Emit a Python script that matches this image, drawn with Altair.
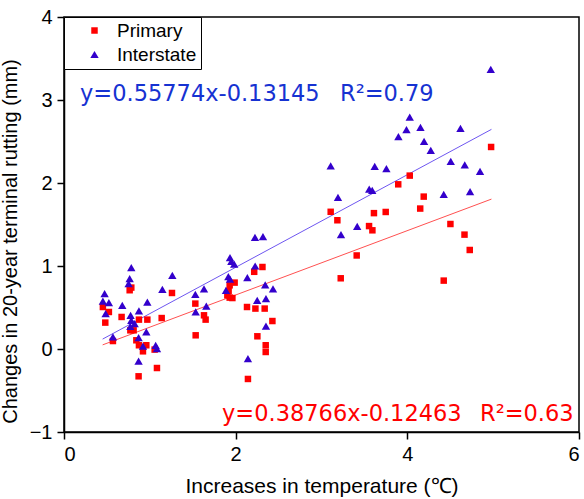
import altair as alt
import pandas as pd

# ---------------- data ----------------
series_names = ["Primary", "Interstate"]
marker_colors = ["#ff0000", "#3300cc"]
marker_shapes = ["square", "triangle-up"]
line_colors = ["#ff5050", "#6e56f0"]
text_colors = ["#ff0000", "#1632d2"]

primary_x = [0.765, 0.784, 0.453, 0.523, 0.481, 0.671, 0.873, 0.971, 1.138, 0.773,
             0.811, 0.570, 0.843, 0.873, 0.959, 0.920, 1.056, 1.083, 0.869, 1.258,
             1.530, 1.631, 1.650, 1.534, 1.930, 1.988, 1.918, 1.903, 1.930, 1.962,
             2.216, 2.312, 2.132, 2.230, 2.338, 2.428, 2.253, 2.350, 2.350, 2.143,
             3.107, 3.185, 3.611, 3.748, 3.894, 4.028, 4.191, 4.150, 3.554, 3.593,
             3.410, 3.224, 4.976, 4.502, 4.666, 4.727, 4.424]
primary_y = [0.708, 0.740, 0.506, 0.446, 0.318, 0.386, 0.354, 0.354, 0.373, 0.225,
             0.225, 0.096, 0.105, 0.045, 0.045, -0.028, -0.007, -0.229, -0.329, 0.675,
             0.547, 0.406, 0.354, 0.165, 0.767, 0.800, 0.699, 0.647, 0.619, 0.614,
             0.930, 0.988, 0.506, 0.487, 0.487, 0.337, 0.153, 0.045, -0.036, -0.361,
             1.653, 1.551, 1.637, 1.651, 1.984, 2.089, 1.836, 1.692, 1.481, 1.430,
             1.127, 0.852, 2.434, 1.506, 1.378, 1.193, 0.824]

interstate_x = [0.784, 0.765, 0.753, 0.473, 0.453, 0.523, 0.485, 0.679, 0.873, 0.971,
                1.146, 0.776, 0.784, 0.823, 0.773, 0.959, 0.570, 0.869, 0.920, 1.068,
                1.083, 0.869, 1.262, 1.530, 1.631, 1.534, 1.658, 1.934, 1.950, 1.983,
                1.915, 1.934, 1.887, 2.136, 2.225, 2.318, 2.227, 2.344, 2.435, 2.251,
                2.353, 2.353, 2.143, 3.107, 3.620, 3.756, 3.192, 3.556, 3.591, 3.416,
                3.227, 4.972, 4.028, 3.990, 3.896, 4.153, 4.195, 4.273, 4.619, 4.506,
                4.669, 4.847, 4.424, 4.731]
interstate_y = [0.981, 0.848, 0.788, 0.667, 0.578, 0.559, 0.427, 0.527, 0.458, 0.566,
                0.719, 0.406, 0.346, 0.306, 0.273, 0.205, 0.145, 0.137, 0.036, 0.045,
                0.005, -0.145, 0.888, 0.659, 0.723, 0.446, 0.518, 1.101, 1.057, 1.024,
                0.872, 0.843, 0.707, 0.860, 1.346, 1.355, 1.000, 0.773, 0.723, 0.587,
                0.607, 0.277, -0.116, 2.207, 2.199, 2.173, 1.828, 1.927, 1.912, 1.478,
                1.378, 3.370, 2.795, 2.643, 2.559, 2.671, 2.502, 2.394, 2.659, 2.261,
                2.217, 2.141, 1.864, 1.896]

fit_slopes = [0.38766, 0.55774]
fit_intercepts = [-0.12463, -0.13145]
fit_r2 = ["0.63", "0.79"]
fit_x_ends = [0.45, 4.98]

x_ticks = [0, 2, 4, 6]
y_ticks = [-1, 0, 1, 2, 3, 4]

FONT = "Liberation Sans"
EQ_FONT = "DejaVu Sans"

# ---------------- tables ----------------
pts = pd.concat([
    pd.DataFrame({"x": primary_x, "y": primary_y, "series": series_names[0]}),
    pd.DataFrame({"x": interstate_x, "y": interstate_y, "series": series_names[1]}),
], ignore_index=True)

fit_rows = []
for name, m, b in zip(series_names, fit_slopes, fit_intercepts):
    for xe in fit_x_ends:
        fit_rows.append({"series": name, "x": xe, "m": m, "b": b})
fits = pd.DataFrame(fit_rows)

xs = alt.Scale(domain=[0, 6], nice=False, zero=False)
ys = alt.Scale(domain=[-1, 4], nice=False, zero=False)

x_axis = alt.Axis(values=x_ticks, format="d", title="Increases in temperature (\u2103)", grid=False,
                  tickSize=7, labelPadding=5, titleBaseline="alphabetic", titleY=60,
                  titleFontSize=21)
y_axis = alt.Axis(values=y_ticks, format="d", title="Changes in 20-year terminal rutting (mm)",
                  grid=False, tickSize=7, labelPadding=5, titleBaseline="alphabetic",
                  titleAngle=-90, titleX=-48, titleY=224, titleAlign="center", titleFontSize=20)

legend = alt.Legend(title=None, orient="none", legendX=0, legendY=0, direction="vertical",
                    fillColor="white", strokeColor="black", padding=4, symbolOffset=17,
                    labelOffset=13, labelFontSize=19, labelFont=FONT, labelColor="black",
                    rowPadding=4, symbolSize=55, symbolStrokeWidth=0, cornerRadius=0)

points = alt.Chart(pts).mark_point(filled=True, opacity=1, strokeWidth=0).encode(
    x=alt.X("x:Q", scale=xs, axis=x_axis),
    y=alt.Y("y:Q", scale=ys, axis=y_axis),
    color=alt.Color("series:N", scale=alt.Scale(domain=series_names, range=marker_colors), legend=legend),
    shape=alt.Shape("series:N", scale=alt.Scale(domain=series_names, range=marker_shapes), legend=legend),
    size=alt.Size("series:N", scale=alt.Scale(domain=series_names, range=[42, 70]), legend=None),
)

line_layers = []
for name, lc in zip(series_names, line_colors):
    line_layers.append(
        alt.Chart(fits).transform_filter(alt.datum.series == name)
        .transform_calculate(yfit="datum.m * datum.x + datum.b")
        .mark_line(color=lc, strokeWidth=1)
        .encode(x=alt.X("x:Q", scale=xs), y=alt.Y("yfit:Q", scale=ys))
    )

eq_text = [f"y={m}x{b}" for m, b in zip(fit_slopes, fit_intercepts)]
r2_text = [f"R\u00b2={r}" for r in fit_r2]
# annotation anchors (pixels inside plot area): primary bottom-right, interstate top-left
eq_pos = [(158, 404), (16, 84)]
r2_pos = [(416, 404), (276, 84)]

text_layers = []
for i in range(2):
    for txt, pos in ((eq_text[i], eq_pos[i]), (r2_text[i], r2_pos[i])):
        text_layers.append(
            alt.Chart(pd.DataFrame({"t": [txt]})).mark_text(
                align="left", baseline="alphabetic", font=EQ_FONT, fontSize=22.5, color=text_colors[i]
            ).encode(x=alt.value(pos[0]), y=alt.value(pos[1]), text="t:N")
        )

chart = alt.layer(*line_layers, points, *text_layers).properties(
    width=515, height=415,
    autosize=alt.AutoSizeParams(type="none"),
    padding={"left": 64, "top": 17, "right": 5, "bottom": 67},
).configure_view(stroke="black", strokeWidth=1.5).configure_axis(
    domainColor="black", domainWidth=1.5, tickColor="black", tickWidth=1.5,
    labelFont=FONT, labelFontSize=20, labelColor="black",
    titleFont=FONT, titleColor="black", titleFontWeight="normal",
).configure_axisX(labelBaseline="top")

chart.save("out.html", embed_options={"renderer": "svg", "actions": False})
